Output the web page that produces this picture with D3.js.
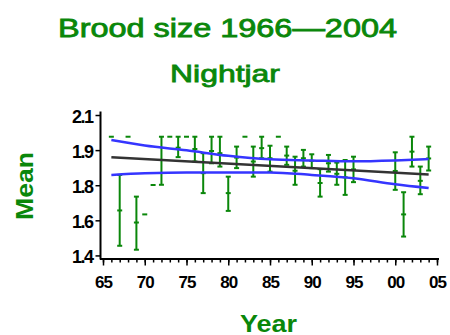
<!DOCTYPE html>
<html>
<head>
<meta charset="utf-8">
<script src="https://cdn.jsdelivr.net/npm/d3@7"></script>
<style>
  html, body { margin: 0; padding: 0; background: #fff; }
  svg { display: block; }
</style>
</head>
<body>
<svg id="chart" width="450" height="335"></svg>
<script>
// ---- data ----
const barYears = [1967, 1969, 1972, 1974, 1976, 1977, 1978, 1979, 1980, 1981, 1983, 1984, 1985, 1987, 1988, 1989, 1990, 1991, 1992, 1993, 1994, 1995, 2000, 2001, 2002, 2003, 2004];
const barMean  = [1.645, 1.590, 1.875, 1.931, 1.925, 1.815, 1.916, 1.906, 1.724, 1.886, 1.868, 1.929, 1.883, 1.895, 1.826, 1.883, 1.871, 1.770, 1.860, 1.812, 1.796, 1.832, 1.825, 1.627, 1.913, 1.780, 1.882];
const barLow   = [1.484, 1.466, 1.762, 1.888, 1.868, 1.724, 1.860, 1.845, 1.643, 1.838, 1.799, 1.883, 1.822, 1.853, 1.762, 1.845, 1.838, 1.708, 1.822, 1.762, 1.716, 1.774, 1.739, 1.526, 1.845, 1.719, 1.827];
const barHigh  = [1.807, 1.708, 1.981, 1.981, 1.981, 1.906, 1.981, 1.981, 1.799, 1.936, 1.936, 1.981, 1.940, 1.936, 1.890, 1.921, 1.901, 1.833, 1.898, 1.863, 1.875, 1.890, 1.910, 1.728, 1.981, 1.845, 1.936];

const singleYears = [1966, 1968, 1970, 1971, 1973, 1975, 1982, 1986];
const singleVals  = [1.981, 1.981, 1.627, 1.761, 1.981, 1.981, 1.981, 1.981];

const trendYears = [1966, 2004];
const trendVals  = [1.888, 1.809];

const bandYears = [1966, 1970, 1975, 1980, 1985, 1990, 1995, 2000, 2004];
const bandUpper = [1.966, 1.941, 1.919, 1.894, 1.878, 1.873, 1.869, 1.873, 1.879];
const bandLower = [1.807, 1.814, 1.818, 1.818, 1.818, 1.807, 1.792, 1.764, 1.747];

const yTickVals = [1.44, 1.60, 1.76, 1.92, 2.08];
const xMajorTicks = [1965, 1970, 1975, 1980, 1985, 1990, 1995, 2000, 2005];

const titleText = "Brood size 1966\u20142004";
const subtitleText = "Nightjar";
const xLabel = "Year";
const yLabel = "Mean";

// ---- drawing ----
const svg = d3.select("#chart");
const green = "#0a870a";
const blue = "#3535ff";
const font = "'Liberation Sans', Arial, sans-serif";

const x = d3.scaleLinear().domain([1965, 2005]).range([103, 437]);
const y = d3.scaleLinear().domain([1.426, 2.096]).range([258.5, 111.5]);

// axes
const xAxisMinor = d3.axisBottom(x).tickValues(d3.range(1965, 2006)).tickSize(4).tickFormat("");
const xAxisMajor = d3.axisBottom(x).tickValues(xMajorTicks).tickSize(7)
  .tickFormat(d => d3.format("02d")(d % 100)).tickPadding(10);

const gx1 = svg.append("g").attr("transform", "translate(0,258.5)").call(xAxisMinor);
const gx2 = svg.append("g").attr("transform", "translate(0,258.5)").call(xAxisMajor);
[gx1, gx2].forEach(g => {
  g.select(".domain").attr("stroke", "#000").attr("stroke-width", 2).attr("d", "M100,0.5H439");
  g.selectAll(".tick line").attr("stroke", "#000").attr("stroke-width", 1.5);
});
gx2.selectAll(".tick text")
  .attr("font-family", font).attr("font-weight", "bold").attr("font-size", 17)
  .attr("letter-spacing", "-1px").attr("fill", "#000").attr("dy", "0.75em");

const yAxis = d3.axisLeft(y).tickValues(yTickVals).tickSize(5).tickPadding(3)
  .tickFormat(d3.format(".1f"));
const gy = svg.append("g").attr("transform", "translate(100.5,0)").call(yAxis);
gy.select(".domain").attr("stroke", "#000").attr("stroke-width", 2).attr("d", "M0,111.5V259.5");
gy.selectAll(".tick line").attr("stroke", "#000").attr("stroke-width", 1.5);
gy.selectAll(".tick text")
  .attr("font-family", font).attr("font-weight", "bold").attr("font-size", 18)
  .attr("letter-spacing", "-1.5px").attr("fill", "#000").attr("dy", "0.4em");

// error bars
const bars = svg.append("g").attr("stroke", green).attr("stroke-width", 2).attr("fill", "none");
barYears.forEach((yr, i) => {
  const cx = x(yr);
  bars.append("line").attr("x1", cx).attr("x2", cx).attr("y1", y(barLow[i])).attr("y2", y(barHigh[i]));
  bars.append("line").attr("x1", cx - 2.5).attr("x2", cx + 2.5).attr("y1", y(barLow[i])).attr("y2", y(barLow[i]));
  bars.append("line").attr("x1", cx - 2.5).attr("x2", cx + 2.5).attr("y1", y(barHigh[i])).attr("y2", y(barHigh[i]));
  bars.append("line").attr("x1", cx - 2.5).attr("x2", cx + 2.5).attr("y1", y(barMean[i])).attr("y2", y(barMean[i]));
});
singleYears.forEach((yr, i) => {
  const cx = x(yr);
  bars.append("line").attr("x1", cx - 2.5).attr("x2", cx + 2.5).attr("y1", y(singleVals[i])).attr("y2", y(singleVals[i]));
});

// trend and band lines
const trendData = trendYears.map((d, i) => [d, trendVals[i]]);
const upperData = bandYears.map((d, i) => [d, bandUpper[i]]);
const lowerData = bandYears.map((d, i) => [d, bandLower[i]]);
const line = d3.line().x(d => x(d[0])).y(d => y(d[1])).curve(d3.curveMonotoneX);

svg.append("path").datum(upperData).attr("d", line).attr("fill", "none").attr("stroke", blue).attr("stroke-width", 2.5);
svg.append("path").datum(lowerData).attr("d", line).attr("fill", "none").attr("stroke", blue).attr("stroke-width", 2.5);
svg.append("path").datum(trendData).attr("d", line).attr("fill", "none").attr("stroke", "#333").attr("stroke-width", 2.5);

// titles
svg.append("text").attr("x", 227.5).attr("y", 36.5).attr("text-anchor", "middle")
  .attr("font-family", font).attr("font-size", 25)
  .attr("fill", green).attr("stroke", green).attr("stroke-width", 0.8)
  .attr("textLength", 339).attr("lengthAdjust", "spacingAndGlyphs")
  .text(titleText);
svg.append("text").attr("x", 225).attr("y", 81.5).attr("text-anchor", "middle")
  .attr("font-family", font).attr("font-size", 24)
  .attr("fill", green).attr("stroke", green).attr("stroke-width", 0.8)
  .attr("textLength", 110).attr("lengthAdjust", "spacingAndGlyphs")
  .text(subtitleText);
svg.append("text").attr("x", 268.5).attr("y", 331.5).attr("text-anchor", "middle")
  .attr("font-family", font).attr("font-weight", "bold").attr("font-size", 23)
  .attr("fill", green).attr("textLength", 57).attr("lengthAdjust", "spacingAndGlyphs")
  .text(xLabel);
svg.append("text").attr("transform", "translate(33,186) rotate(-90)").attr("text-anchor", "middle")
  .attr("font-family", font).attr("font-weight", "bold").attr("font-size", 24)
  .attr("fill", green).attr("textLength", 68).attr("lengthAdjust", "spacingAndGlyphs")
  .text(yLabel);
</script>
</body>
</html>
